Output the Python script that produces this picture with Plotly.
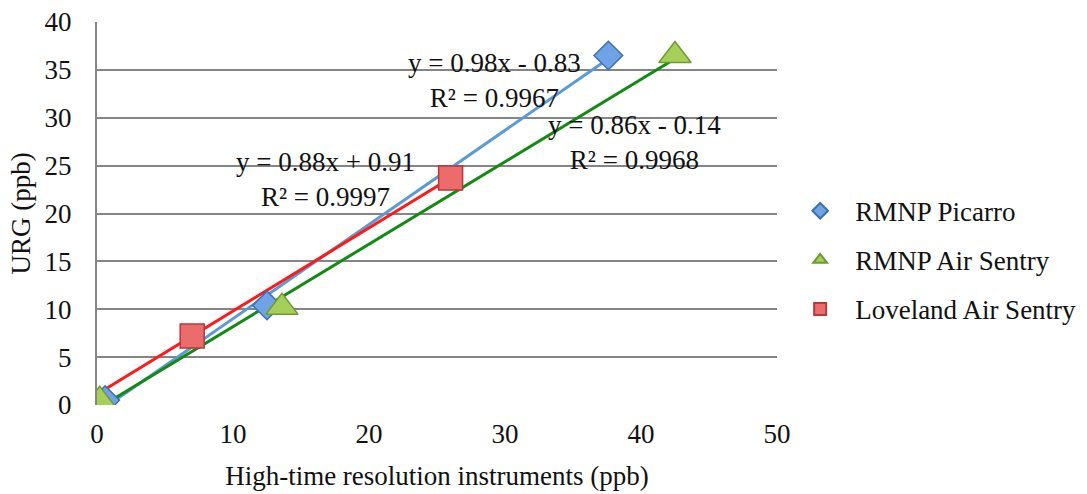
import numpy as np
import plotly.graph_objects as go

# ---- data ----
series_names = ["RMNP Picarro", "RMNP Air Sentry", "Loveland Air Sentry"]
picarro_x = [0.6, 12.5, 37.6]
picarro_y = [0.5, 10.4, 36.5]
airsentry_x = [0.2, 13.6, 42.5]
airsentry_y = [0.5, 10.2, 36.5]
loveland_x = [7.0, 26.0]
loveland_y = [7.2, 23.7]

# trendline equations shown on the chart
eq_labels = ["y = 0.98x - 0.83<br>R² = 0.9967",
             "y = 0.86x - 0.14<br>R² = 0.9968",
             "y = 0.88x + 0.91<br>R² = 0.9997"]
eq_pos_x = [29.2, 39.5, 16.8]
eq_pos_y = [33.9, 27.4, 23.5]
# Excel-like backward forecast to x=0 for the Loveland trendline
trend_start = [None, None, 0.0]

x_ticks = [0, 10, 20, 30, 40, 50]
y_ticks = [0, 5, 10, 15, 20, 25, 30, 35, 40]

FONT = "Liberation Serif"
FS = 27
xs = [picarro_x, airsentry_x, loveland_x]
ys = [picarro_y, airsentry_y, loveland_y]
line_colors = ["#5b9bd5", "#138a13", "#ff1a1a"]
fill_colors = ["#6fa3e6", "#a6cf5a", "#ec6b6b"]
edge_colors = ["#3d6fb3", "#6f9a34", "#b33a3a"]
symbols = ["diamond", "triangle-up", "square"]
sizes = [22, 28, 24]

fig = go.Figure()

# trendlines (drawn first, underneath markers)
for i in range(3):
    slope, icpt = np.polyfit(xs[i], ys[i], 1)
    x0 = min(xs[i]) if trend_start[i] is None else trend_start[i]
    x1 = max(xs[i])
    tx = np.array([x0, x1])
    fig.add_trace(go.Scatter(x=tx, y=slope * tx + icpt, mode="lines",
                             line=dict(color=line_colors[i], width=3),
                             showlegend=False, hoverinfo="skip"))

for i in range(3):
    fig.add_trace(go.Scatter(
        x=xs[i], y=ys[i], mode="markers", name=series_names[i],
        legendgroup=series_names[i],
        marker=dict(symbol=symbols[i], size=sizes[i], color=fill_colors[i],
                    line=dict(color=edge_colors[i], width=1.5))))

for i in range(3):
    fig.add_annotation(x=eq_pos_x[i], y=eq_pos_y[i], text=eq_labels[i],
                       showarrow=False, xanchor="center", yanchor="middle",
                       align="center",
                       font=dict(family=FONT, size=FS, color="#111111"))

fig.update_layout(
    width=1087, height=494,
    margin=dict(l=97, r=310, t=22, b=89, autoexpand=False),
    paper_bgcolor="white", plot_bgcolor="white",
    font=dict(family=FONT, size=FS, color="#111111"),
    legend=dict(x=1.012, y=0.57, xanchor="left", yanchor="top",
                font=dict(family=FONT, size=FS, color="#111111"),
                itemsizing="constant", itemwidth=60, tracegroupgap=11,
                bgcolor="rgba(0,0,0,0)"),
    xaxis=dict(range=[0, 50], tickvals=x_ticks, showgrid=False,
               zeroline=False, showline=False, ticks="",
               tickfont=dict(family=FONT, size=FS),
               ticklabelstandoff=10,
               title=dict(text="High-time resolution instruments (ppb)",
                          font=dict(family=FONT, size=FS), standoff=18)),
    yaxis=dict(range=[0, 40], tickvals=y_ticks, showgrid=True,
               gridcolor="#858585", gridwidth=2, zeroline=False,
               showline=True, linecolor="#858585", linewidth=2, ticks="",
               tickfont=dict(family=FONT, size=FS),
               ticklabelstandoff=18,
               title=dict(text="URG (ppb)", font=dict(family=FONT, size=FS),
                          standoff=6)),
)

fig.write_html("out.html")
